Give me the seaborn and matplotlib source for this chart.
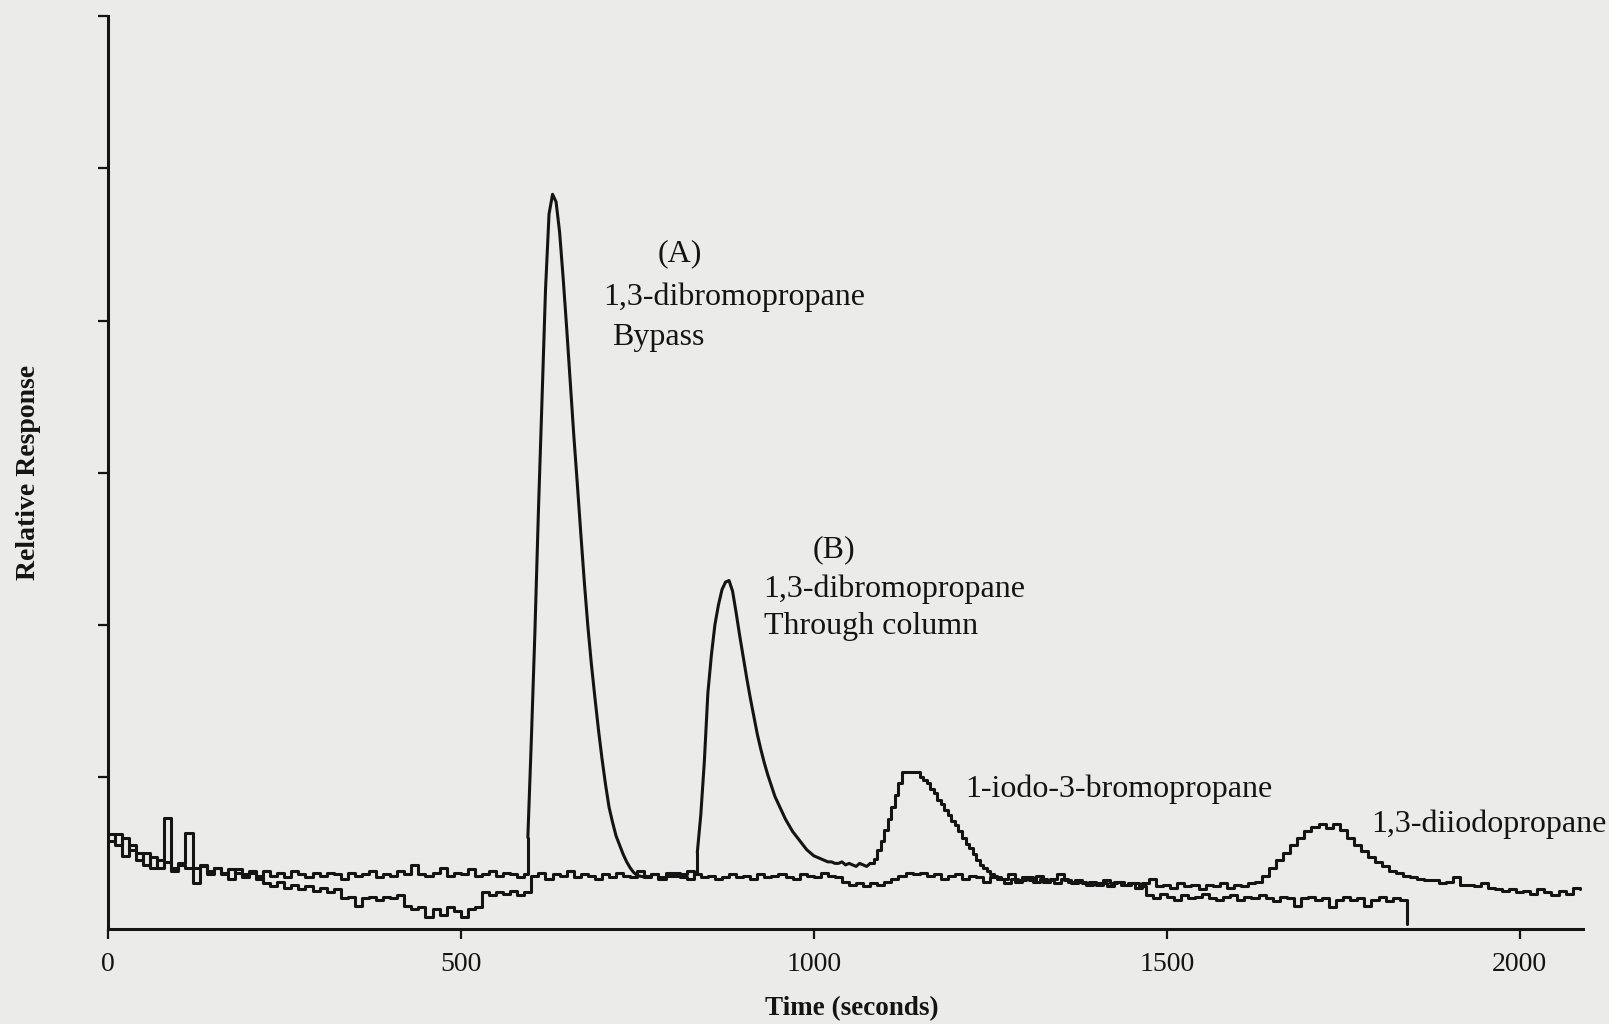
import numpy as np
import pandas as pd
import matplotlib
matplotlib.use("Agg")
import matplotlib.pyplot as plt
import seaborn as sns

# Bypass run (A): sampled segments (start s, step s, relative response)
a1_start, a1_step = 0, 10
a1_vals = [0.62, 0.55, 0.60, 0.52, 0.45, 0.50, 0.40, 0.45, 0.73, 0.40,
           0.43, 0.63, 0.40, 0.42, 0.36, 0.40, 0.37, 0.33, 0.39, 0.36,
           0.37, 0.33, 0.38, 0.35, 0.37, 0.34, 0.38, 0.36, 0.34, 0.37,
           0.35, 0.37, 0.36, 0.33, 0.37, 0.35, 0.36, 0.38, 0.34, 0.36,
           0.35, 0.38, 0.36, 0.42, 0.36, 0.35, 0.37, 0.40, 0.35, 0.37,
           0.36, 0.39, 0.35, 0.36, 0.38, 0.35, 0.37, 0.36, 0.34, 0.36]
a2_start, a2_step = 595, 5
a2_vals = [0.60, 1.25, 1.95, 2.75, 3.47, 4.20, 4.70, 4.83, 4.78, 4.58,
           4.28, 3.95, 3.60, 3.25, 2.93, 2.60, 2.28, 1.99, 1.74, 1.52,
           1.31, 1.12, 0.95, 0.80, 0.70, 0.61, 0.55, 0.49, 0.44, 0.40,
           0.37, 0.35]
a3_start, a3_step = 760, 10
a3_vals = [0.34, 0.36, 0.33, 0.35, 0.37, 0.34, 0.33, 0.36, 0.34, 0.35,
           0.33, 0.34, 0.36, 0.34, 0.35, 0.33, 0.36, 0.34, 0.35, 0.36,
           0.34, 0.33, 0.36, 0.35, 0.34, 0.37, 0.35, 0.34, 0.31, 0.29,
           0.30, 0.28, 0.30, 0.29, 0.31, 0.33, 0.35, 0.37, 0.36, 0.37,
           0.35, 0.36, 0.33, 0.35, 0.36, 0.33, 0.35, 0.34, 0.31, 0.34,
           0.33, 0.30, 0.33, 0.32, 0.34, 0.31, 0.33, 0.32, 0.30, 0.33,
           0.31, 0.32, 0.30, 0.31, 0.29, 0.32, 0.30, 0.31, 0.29, 0.30,
           0.28, 0.22, 0.20, 0.23, 0.21, 0.19, 0.22, 0.20, 0.21, 0.23,
           0.20, 0.19, 0.21, 0.22, 0.19, 0.21, 0.20, 0.22, 0.20, 0.18,
           0.21, 0.20, 0.15, 0.20, 0.21, 0.19, 0.20, 0.14, 0.19, 0.21,
           0.19, 0.20, 0.15, 0.19, 0.21, 0.18, 0.20, 0.19, 0.03]

# Through-column run (B)
b1_start, b1_step = 0, 10
b1_vals = [0.58, 0.62, 0.48, 0.55, 0.50, 0.42, 0.47, 0.40, 0.44, 0.38,
           0.42, 0.40, 0.30, 0.41, 0.38, 0.40, 0.36, 0.39, 0.37, 0.34,
           0.38, 0.35, 0.30, 0.28, 0.31, 0.27, 0.29, 0.26, 0.28, 0.25,
           0.27, 0.24, 0.26, 0.20, 0.21, 0.15, 0.20, 0.21, 0.19, 0.21,
           0.20, 0.22, 0.15, 0.13, 0.14, 0.08, 0.13, 0.09, 0.14, 0.12,
           0.08, 0.13, 0.14, 0.24, 0.22, 0.24, 0.23, 0.25, 0.22, 0.24,
           0.35, 0.37, 0.33, 0.36, 0.35, 0.38, 0.34, 0.36, 0.35, 0.33,
           0.36, 0.34, 0.37, 0.35, 0.34, 0.38, 0.35, 0.36, 0.34, 0.37,
           0.35, 0.36, 0.38, 0.36]
b2_start, b2_step = 835, 5
b2_vals = [0.50, 0.75, 1.10, 1.55, 1.80, 2.00, 2.13, 2.23, 2.28, 2.29,
           2.22, 2.08, 1.93, 1.79, 1.65, 1.52, 1.40, 1.28, 1.18, 1.09,
           1.01, 0.94, 0.87, 0.82, 0.77, 0.72, 0.68, 0.64, 0.61, 0.58,
           0.55, 0.52, 0.50, 0.48, 0.47, 0.46, 0.45, 0.44, 0.44, 0.43,
           0.43, 0.44, 0.42, 0.43, 0.42, 0.41, 0.43, 0.42, 0.41]
b3_start, b3_step = 1080, 5
b3_vals = [0.43, 0.46, 0.52, 0.58, 0.65, 0.72, 0.80, 0.88, 0.96, 1.03,
           1.03, 1.03, 1.03, 1.03, 1.00, 0.98, 0.96, 0.92, 0.89, 0.85,
           0.82, 0.78, 0.75, 0.71, 0.68, 0.64, 0.60, 0.56, 0.53, 0.49,
           0.45, 0.42, 0.40, 0.38, 0.36, 0.35, 0.34]
b4_start, b4_step = 1265, 10
b4_vals = [0.33, 0.36, 0.31, 0.34, 0.32, 0.35, 0.31, 0.33, 0.36, 0.32,
           0.30, 0.31, 0.29, 0.30, 0.30, 0.28, 0.31, 0.29, 0.30, 0.27,
           0.30, 0.33, 0.28, 0.29, 0.27, 0.30, 0.28, 0.29, 0.26, 0.29,
           0.28, 0.30, 0.27, 0.29, 0.28, 0.30, 0.31, 0.35, 0.40, 0.45,
           0.50, 0.55, 0.60, 0.64, 0.67, 0.69, 0.66, 0.69, 0.65, 0.60,
           0.55, 0.51, 0.47, 0.44, 0.41, 0.38, 0.37, 0.35, 0.34, 0.33,
           0.32, 0.32, 0.30, 0.31, 0.34, 0.29, 0.29, 0.28, 0.30, 0.27,
           0.26, 0.25, 0.26, 0.24, 0.25, 0.23, 0.26, 0.24, 0.22, 0.25,
           0.23, 0.27, 0.26]

x_ticks = [0, 500, 1000, 1500, 2000]
labels = [
    ("(A)", 810, 4.44, "center"),
    ("1,3-dibromopropane", 702, 4.15, "left"),
    ("Bypass", 714, 3.89, "left"),
    ("(B)", 1029, 2.49, "center"),
    ("1,3-dibromopropane", 929, 2.23, "left"),
    ("Through column", 929, 1.99, "left"),
    ("1-iodo-3-bromopropane", 1215, 0.92, "left"),
    ("1,3-diiodopropane", 1789, 0.69, "left"),
]

# (start, step, values, smooth?) — the two big peaks were traced smoothly
runs = {
    "bypass": [(a1_start, a1_step, a1_vals, False),
               (a2_start, a2_step, a2_vals, True),
               (a3_start, a3_step, a3_vals, False)],
    "column": [(b1_start, b1_step, b1_vals, False),
               (b2_start, b2_step, b2_vals, True),
               (b3_start, b3_step, b3_vals, False),
               (b4_start, b4_step, b4_vals, False)],
}

sns.set_style("ticks")
plt.rcParams["font.family"] = ["Liberation Serif", "DejaVu Serif"]

bg = "#ebebea"
ink = "#141414"
fig = plt.figure(figsize=(16.09, 10.24), dpi=100, facecolor=bg)
ax = fig.add_axes([0.067, 0.093, 0.917, 0.891])
ax.set_facecolor(bg)

for name, segs in runs.items():
    for i, (start, step, vals, smooth) in enumerate(segs):
        t = list(start + step * np.arange(len(vals)))
        y = list(vals)
        # join to the first sample of the next segment
        if i + 1 < len(segs):
            t.append(segs[i + 1][0])
            y.append(segs[i + 1][2][0])
        df = pd.DataFrame({"time": t, "response": y})
        sns.lineplot(data=df, x="time", y="response", ax=ax, color=ink,
                     linewidth=2.2,
                     drawstyle="default" if smooth else "steps-post",
                     estimator=None, sort=False)

for text, x, y, ha in labels:
    ax.text(x, y, text, ha=ha, va="center", fontsize=23, color=ink)

ax.set_xlim(0, 2090)
ax.set_ylim(0, 6)
ax.set_xticks(x_ticks)
ax.set_xticklabels([str(v) for v in x_ticks], fontsize=20, color=ink)
ax.set_yticks([1, 2, 3, 4, 5, 6])
ax.set_yticklabels([])
ax.tick_params(axis="x", length=7, width=1.6, pad=10, color=ink)
ax.tick_params(axis="y", length=7, width=1.6, color=ink)
ax.set_xlabel("")
ax.set_ylabel("")
sns.despine(ax=ax)
for side in ("left", "bottom"):
    ax.spines[side].set_linewidth(2.2)
    ax.spines[side].set_color(ink)

fig.text(29 / 1609, 1 - 472 / 1024, "Relative Response", rotation=90,
         ha="center", va="center", fontsize=20, fontweight="bold", color=ink)
fig.text(852 / 1609, 1 - 1009 / 1024, "Time (seconds)", ha="center",
         va="center", fontsize=19.5, fontweight="bold", color=ink)

fig.savefig("out.png", dpi=100, facecolor=bg)
